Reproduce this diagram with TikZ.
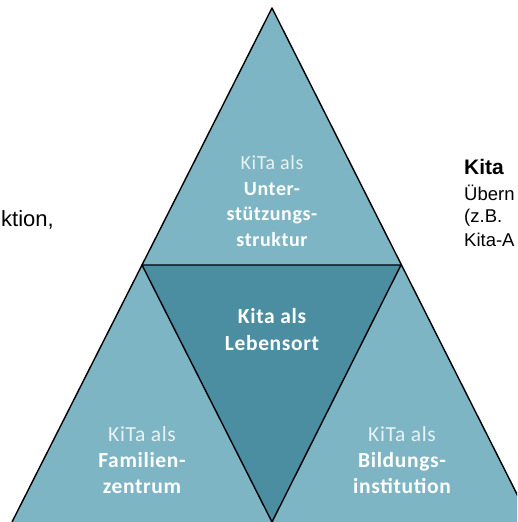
\documentclass[tikz,border=0pt]{standalone}
\usepackage{fontspec}
\setmainfont{Liberation Sans}
\newfontfamily\calfont[LetterSpace=3]{Carlito}
\usetikzlibrary{positioning}
\definecolor{tealLight}{RGB}{126,181,196}
\definecolor{tealDark}{RGB}{75,142,161}
\colorlet{softWhite}{white!82!tealLight}

\begin{document}
\begin{tikzpicture}[
        x=1pt, y=1pt,
        edge/.style={draw=black, line width=1.4pt, line join=round},
        outertri/.style={fill=tealLight},
        innertri/.style={fill=tealDark},
        tritext/.style={text=white, align=center, inner sep=0pt, font=\calfont\bfseries\fontsize{20}{25.5}\selectfont},
        bottomtext/.style={tritext, font=\calfont\bfseries\fontsize{21.5}{26}\selectfont},
        midtext/.style={tritext, font=\calfont\bfseries\fontsize{21.5}{27}\selectfont},
        sidetext/.style={anchor=base west, inner sep=0pt, font=\fontsize{18.5}{22}\selectfont}
    ]
    \useasboundingbox (0,0) rectangle (517,522);
    \clip (0,0) rectangle (517,522);

    \coordinate (apex) at (272,514);
    \coordinate (ml) at (142,257);
    \coordinate (mr) at (401,257);
    \coordinate (bl) at (12,0);
    \coordinate (bm) at (272,0);
    \coordinate (br) at (531,0);

    \fill[outertri] (apex) -- (ml) -- (mr) -- cycle;
    \fill[outertri] (ml) -- (bl) -- (bm) -- cycle;
    \fill[outertri] (mr) -- (bm) -- (br) -- cycle;
    \fill[innertri] (ml) -- (mr) -- (bm) -- cycle;
    \draw[edge] (bl) -- (apex) -- (br);
    \draw[edge] (ml) -- (mr) -- (bm) -- cycle;

    \node[tritext] (support) at (272,321) {{\mdseries\color{softWhite}KiTa als}\\Unter-\\stützungs-\\struktur};
    \node[midtext] (living) at (272,192) {Kita als\\Lebensort};
    \node[bottomtext] (family) at (142,62) {{\mdseries\color{softWhite}KiTa als}\\Familien-\\zentrum};
    \node[bottomtext] (education) at (402,62) {{\mdseries\color{softWhite}KiTa als}\\Bildungs-\\institution};

    \node[sidetext, font=\fontsize{22}{25}\selectfont] (leftnote) at (1,295) {ktion,};
    \node[sidetext, font=\bfseries\fontsize{21}{24}\selectfont] (kitahead) at (464,347) {Kita};
    \node[sidetext] (noteone) at (464,321) {Übern};
    \node[sidetext] (notetwo) at (464,299) {(z.B.};
    \node[sidetext] (notethree) at (464,275) {Kita-A};
\end{tikzpicture}
\end{document}
